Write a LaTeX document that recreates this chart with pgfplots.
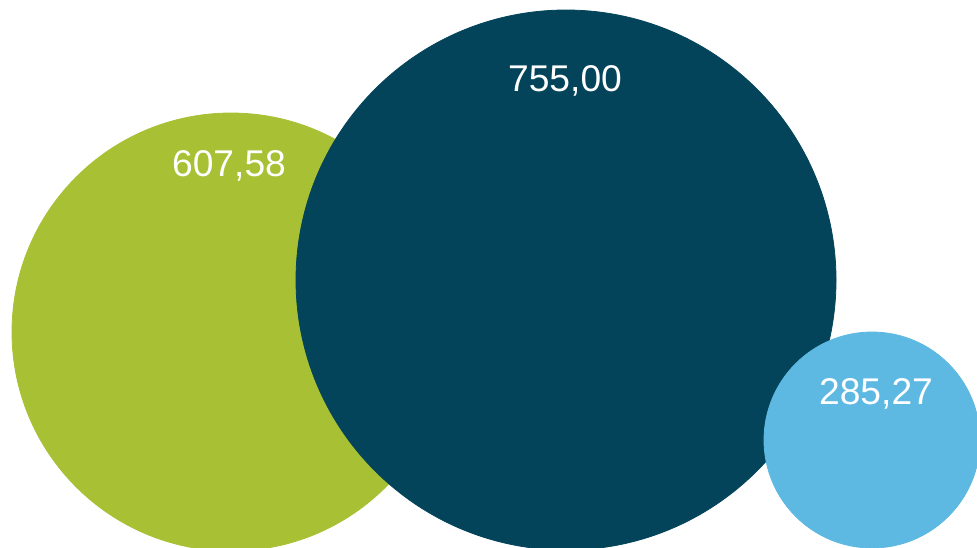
\documentclass[border=0pt]{standalone}
\usepackage{pgfplots}
\pgfplotsset{compat=1.18}
\usepackage{fontspec}
\setmainfont{Liberation Sans}
\definecolor{cgreen}{HTML}{A8C034}
\definecolor{cdark}{HTML}{03445A}
\definecolor{clight}{HTML}{5DB9E2}
\begin{document}
\begin{tikzpicture}
\begin{axis}[
  scale only axis,
  width=488.5pt, height=273.5pt,
  xmin=0, xmax=977, ymin=0, ymax=547,
  y dir=reverse,
  hide axis,
  clip=true,
]
% bubbles: centre in pixel units, radius set by mark size (pt)
\addplot[only marks, mark=*, mark size=109.5pt, color=cgreen, mark options={draw=none}]
  coordinates {(231,332)};
\addplot[only marks, mark=*, mark size=135pt, color=cdark, mark options={draw=none}]
  coordinates {(566,280)};
\addplot[only marks, mark=*, mark size=54pt, color=clight, mark options={draw=none}]
  coordinates {(872,440)};
\coordinate (l1) at (axis cs:229,166);
\coordinate (l2) at (axis cs:565,81);
\coordinate (l3) at (axis cs:876,394);
\end{axis}
\node[white, font=\fontsize{18.6}{20}\selectfont] at (l1) {607,58};
\node[white, font=\fontsize{18.6}{20}\selectfont] at (l2) {755,00};
\node[white, font=\fontsize{18.6}{20}\selectfont] at (l3) {285,27};
\pgfresetboundingbox
\path (current axis.south west) rectangle (current axis.north east);
\end{tikzpicture}
\end{document}
